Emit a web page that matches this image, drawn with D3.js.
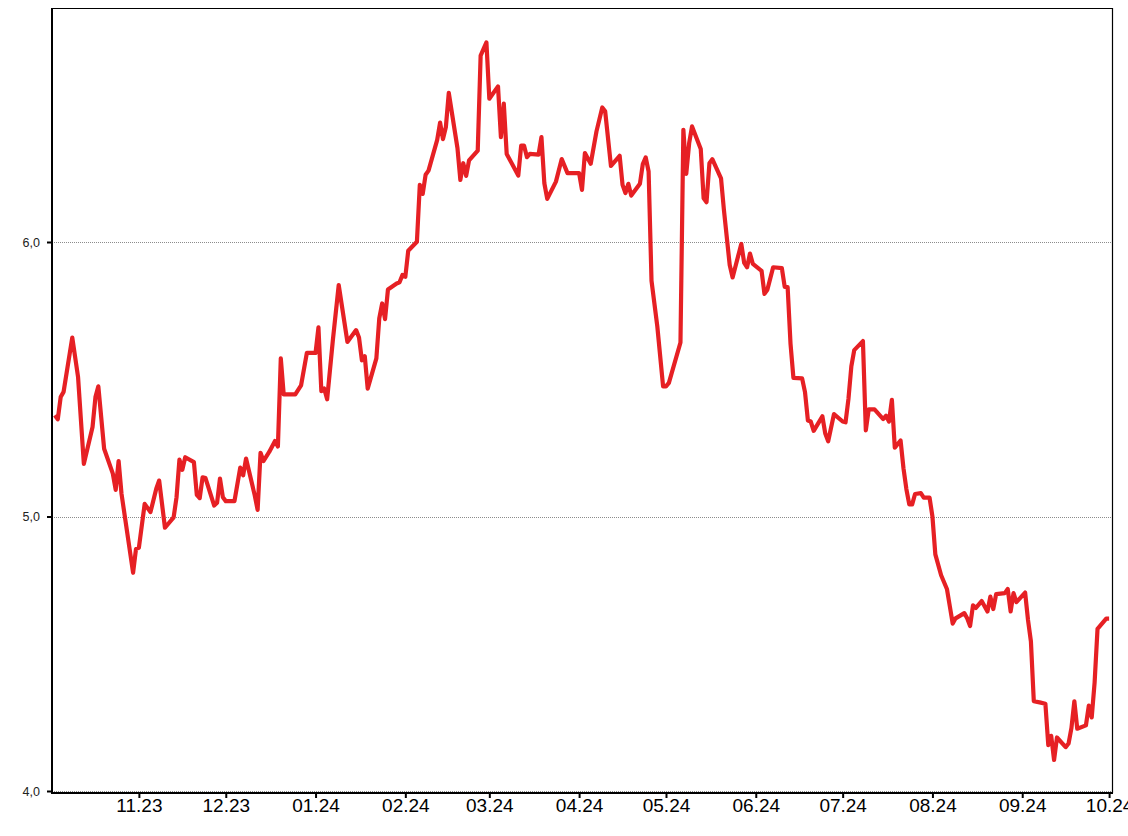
<!DOCTYPE html>
<html>
<head>
<meta charset="utf-8">
<script src="https://cdn.jsdelivr.net/npm/d3@7"></script>
<style>
  html, body { margin: 0; padding: 0; background: #fff; }
  svg { display: block; }
</style>
</head>
<body>
<script>
// ---------------- data ----------------
const dates = [
  "2023-10-03","2023-10-04","2023-10-05","2023-10-06","2023-10-09","2023-10-11","2023-10-13","2023-10-16","2023-10-17","2023-10-18","2023-10-20","2023-10-23","2023-10-24","2023-10-25","2023-10-26","2023-10-30","2023-10-31",
  "2023-11-01","2023-11-03","2023-11-05","2023-11-07","2023-11-08","2023-11-10","2023-11-13","2023-11-14","2023-11-15","2023-11-16","2023-11-17","2023-11-20","2023-11-21","2023-11-22","2023-11-23","2023-11-24","2023-11-27","2023-11-28","2023-11-29","2023-11-30",
  "2023-12-01","2023-12-04","2023-12-06","2023-12-07","2023-12-08","2023-12-11","2023-12-12","2023-12-13","2023-12-14","2023-12-16","2023-12-18","2023-12-19","2023-12-20","2023-12-21","2023-12-25","2023-12-27","2023-12-29",
  "2024-01-01","2024-01-02","2024-01-03","2024-01-04","2024-01-05","2024-01-07","2024-01-09","2024-01-12","2024-01-15","2024-01-16","2024-01-17","2024-01-18","2024-01-19","2024-01-22","2024-01-23","2024-01-24","2024-01-25","2024-01-26","2024-01-29","2024-01-30","2024-01-31",
  "2024-02-01","2024-02-02","2024-02-05","2024-02-06","2024-02-07","2024-02-08","2024-02-09","2024-02-12","2024-02-13","2024-02-14","2024-02-15","2024-02-16","2024-02-19","2024-02-20","2024-02-21","2024-02-22","2024-02-23","2024-02-26","2024-02-27","2024-02-29",
  "2024-03-01","2024-03-04","2024-03-05","2024-03-06","2024-03-07","2024-03-11","2024-03-12","2024-03-13","2024-03-14","2024-03-15","2024-03-18","2024-03-19","2024-03-20","2024-03-21","2024-03-24","2024-03-26","2024-03-28",
  "2024-04-01","2024-04-02","2024-04-03","2024-04-05","2024-04-07","2024-04-09","2024-04-10","2024-04-12","2024-04-15","2024-04-16","2024-04-17","2024-04-18","2024-04-19","2024-04-22","2024-04-23","2024-04-24","2024-04-25","2024-04-26","2024-04-28","2024-04-30",
  "2024-05-01","2024-05-02","2024-05-06","2024-05-07","2024-05-08","2024-05-09","2024-05-10","2024-05-13","2024-05-14","2024-05-15","2024-05-16","2024-05-17","2024-05-20","2024-05-21","2024-05-23","2024-05-24","2024-05-27","2024-05-28","2024-05-29","2024-05-30","2024-05-31",
  "2024-06-03","2024-06-04","2024-06-05","2024-06-07","2024-06-10","2024-06-11","2024-06-12","2024-06-13","2024-06-14","2024-06-17","2024-06-18","2024-06-19","2024-06-20","2024-06-21","2024-06-24","2024-06-25","2024-06-26","2024-06-28",
  "2024-07-01","2024-07-02","2024-07-03","2024-07-04","2024-07-05","2024-07-08","2024-07-09","2024-07-10","2024-07-12","2024-07-15","2024-07-16","2024-07-17","2024-07-18","2024-07-19","2024-07-21","2024-07-22","2024-07-23","2024-07-24","2024-07-25","2024-07-26","2024-07-28","2024-07-29","2024-07-31",
  "2024-08-01","2024-08-02","2024-08-04","2024-08-06","2024-08-07","2024-08-08","2024-08-09","2024-08-12","2024-08-13","2024-08-14","2024-08-15","2024-08-16","2024-08-18","2024-08-20","2024-08-21","2024-08-22","2024-08-23","2024-08-26","2024-08-27","2024-08-28","2024-08-29","2024-08-30",
  "2024-09-02","2024-09-03","2024-09-04","2024-09-05","2024-09-07","2024-09-09","2024-09-10","2024-09-11","2024-09-12","2024-09-13","2024-09-16","2024-09-17","2024-09-18","2024-09-19","2024-09-20","2024-09-23","2024-09-24","2024-09-25","2024-09-26","2024-09-27","2024-09-30",
  "2024-10-01"
];
const values = [
  5.369,5.354,5.435,5.454,5.652,5.508,5.192,5.326,5.435,5.474,5.247,5.156,5.097,5.202,5.083,4.795,4.882,
  4.886,5.046,5.016,5.101,5.131,4.959,4.997,5.070,5.207,5.170,5.216,5.198,5.079,5.067,5.143,5.140,5.040,5.050,5.138,5.070,
  5.056,5.056,5.178,5.150,5.211,5.077,5.024,5.232,5.202,5.235,5.275,5.255,5.576,5.445,5.445,5.478,5.596,
  5.596,5.689,5.457,5.466,5.427,5.645,5.843,5.636,5.679,5.652,5.569,5.584,5.466,5.576,5.722,5.776,5.719,5.827,5.849,5.853,5.880,
  5.873,5.968,6.001,6.208,6.175,6.245,6.260,6.372,6.435,6.375,6.419,6.543,6.342,6.226,6.287,6.241,6.297,6.333,6.679,6.727,
  6.522,6.567,6.382,6.504,6.321,6.242,6.351,6.351,6.309,6.321,6.318,6.382,6.214,6.157,6.220,6.302,6.251,
  6.251,6.190,6.324,6.285,6.403,6.490,6.476,6.277,6.314,6.208,6.178,6.212,6.169,6.212,6.284,6.308,6.257,5.859,5.693,5.474,
  5.474,5.487,5.634,6.409,6.248,6.360,6.421,6.339,6.159,6.145,6.287,6.302,6.232,6.117,5.916,5.871,5.993,5.924,5.908,5.958,5.920,
  5.895,5.811,5.826,5.908,5.905,5.836,5.836,5.629,5.505,5.503,5.453,5.350,5.346,5.312,5.365,5.302,5.274,5.373,
  5.346,5.343,5.428,5.547,5.606,5.639,5.314,5.390,5.390,5.355,5.367,5.346,5.425,5.251,5.277,5.176,5.100,5.044,5.044,5.082,5.085,5.069,5.069,
  5.000,4.862,4.786,4.736,4.673,4.610,4.629,4.648,4.629,4.601,4.676,4.667,4.692,4.654,4.708,4.663,4.717,4.721,4.736,4.654,4.721,4.688,
  4.723,4.623,4.545,4.327,4.323,4.318,4.167,4.201,4.113,4.195,4.160,4.173,4.230,4.327,4.227,4.239,4.311,4.268,4.396,4.591,4.628,
  4.628
];
const xTickDates = ["2023-11-01","2023-12-01","2024-01-01","2024-02-01","2024-03-01","2024-04-01","2024-05-01","2024-06-01","2024-07-01","2024-08-01","2024-09-01","2024-10-01"];
const xTickLabels = ["11.23","12.23","01.24","02.24","03.24","04.24","05.24","06.24","07.24","08.24","09.24","10.24"];
const yTickValues = [4, 5, 6];
const yTickLabels = ["4,0", "5,0", "6,0"];
const xDomain = ["2023-10-02", "2024-10-02"];
const yDomain = [4, 6];

// ---------------- layout ----------------
const W = 1128, H = 836;
const L = 52, R = 1112, T = 8, B = 793;
const parse = d3.utcParse("%Y-%m-%d");
const data = dates.map((d, i) => ({ date: parse(d), value: values[i] }));

const svg = d3.select("body").append("svg").attr("width", W).attr("height", H);

const x = d3.scaleUtc().domain(xDomain.map(parse)).range([L, R]);
const y = d3.scaleLinear().domain(yDomain).range([791, 242]);

// gridlines
svg.append("g").selectAll("line").data(yTickValues).join("line")
  .attr("x1", L).attr("x2", R)
  .attr("y1", d => Math.round(y(d)) + 0.5).attr("y2", d => Math.round(y(d)) + 0.5)
  .attr("stroke", "#8c8c8c").attr("stroke-width", 1).attr("stroke-dasharray", "1,1");

// frame (top + right thin)
svg.append("path")
  .attr("d", `M${L},${T + 0.5}H${R + 0.5}V${B}`)
  .attr("fill", "none").attr("stroke", "#000").attr("stroke-width", 1.2);

// line
const line = d3.line().x(d => x(d.date)).y(d => y(d.value));
svg.append("path").datum(data)
  .attr("d", line)
  .attr("fill", "none")
  .attr("stroke", "#e62024")
  .attr("stroke-width", 4.2)
  .attr("stroke-linejoin", "round")
  .attr("stroke-linecap", "butt");

// y axis
const yAxis = d3.axisLeft(y)
  .tickValues(yTickValues)
  .tickFormat(d => yTickLabels[yTickValues.indexOf(d)])
  .tickSize(5).tickPadding(7);
const gy = svg.append("g").attr("transform", `translate(${L},0)`).call(yAxis);
gy.select(".domain").remove();
gy.selectAll(".tick line").attr("stroke", "#000").attr("stroke-width", 2);
gy.selectAll(".tick text")
  .attr("font-family", "'Liberation Sans', Arial, sans-serif")
  .attr("font-size", 12.5).attr("fill", "#222");

// x axis
const xTicks = xTickDates.map(parse);
const xAxis = d3.axisBottom(x)
  .tickValues(xTicks)
  .tickFormat((d, i) => xTickLabels[i])
  .tickSize(5).tickPadding(1);
const gx = svg.append("g").attr("transform", `translate(0,${B})`).call(xAxis);
gx.select(".domain").remove();
gx.selectAll(".tick line").attr("stroke", "#000").attr("stroke-width", 2);
gx.selectAll(".tick text")
  .attr("font-family", "'Liberation Sans', Arial, sans-serif")
  .attr("font-size", 19).attr("fill", "#000");

// thick left + bottom axis lines
svg.append("line").attr("x1", L).attr("x2", L).attr("y1", T).attr("y2", B + 1)
  .attr("stroke", "#000").attr("stroke-width", 2);
svg.append("line").attr("x1", L - 1).attr("x2", R + 1).attr("y1", B).attr("y2", B)
  .attr("stroke", "#000").attr("stroke-width", 2);
</script>
</body>
</html>
